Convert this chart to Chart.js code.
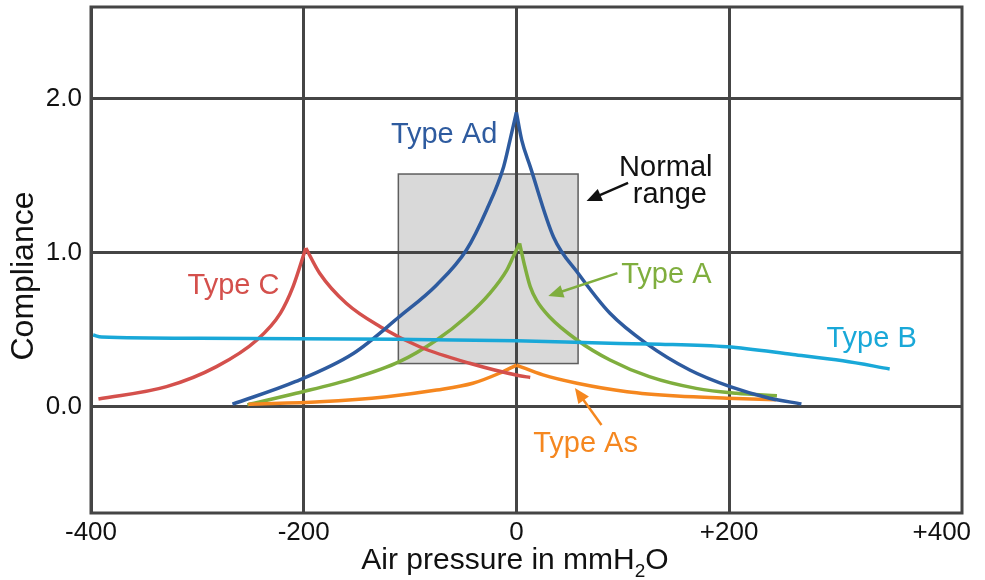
<!DOCTYPE html>
<html>
<head>
<meta charset="utf-8">
<script src="https://cdn.jsdelivr.net/npm/chart.js@4.4.1/dist/chart.umd.min.js"></script>
<style>
  html,body{margin:0;padding:0;background:#fff;}
  #wrap{width:985px;height:580px;position:relative;}
</style>
</head>
<body>
<div id="wrap"><canvas id="chart"></canvas></div>
<script>
const FONT="'Liberation Sans', Arial, sans-serif";

// AXES
const xTickValues=[-400,-200,0,200,400];
const xTickLabels=["-400","-200","0","+200","+400"];
const yTickValues=[0,1,2];
const yTickLabels=["0.0","1.0","2.0"];

// CURVES (air pressure, compliance) - each peaked curve split at its peak
const typeAdLeft=[[-267,0.016],[-208,0.162],[-153,0.347],[-110,0.584],[-75,0.79],[-47,1.017],[-28,1.277],[-12,1.558],[-6,1.73],[0,1.91]];
const typeAdRight=[[0,1.91],[5,1.73],[13,1.558],[35,1.10],[58,0.866],[88,0.606],[122,0.411],[163,0.238],[201,0.130],[238,0.055],[268,0.018]];
const typeALeft=[[-253,0.012],[-207,0.087],[-153,0.184],[-110,0.292],[-75,0.433],[-47,0.584],[-25,0.736],[-9,0.887],[-3,0.973],[3,1.06]];
const typeARight=[[3,1.06],[8,0.908],[13,0.779],[19,0.69],[31,0.584],[57,0.433],[88,0.303],[125,0.195],[169,0.119],[207,0.087],[245,0.071]];
const typeAsLeft=[[-252,0.016],[-185,0.032],[-122,0.065],[-75,0.108],[-41,0.152],[-16,0.217],[0,0.27]];
const typeAsRight=[[0,0.27],[25,0.206],[57,0.152],[104,0.097],[151,0.069],[198,0.055],[244,0.045]];
const typeCLeft=[[-393,0.05],[-329,0.13],[-282,0.26],[-244,0.433],[-222,0.606],[-210,0.779],[-198,1.03]];
const typeCRight=[[-198,1.03],[-185,0.866],[-160,0.671],[-128,0.519],[-91,0.389],[-44,0.282],[3,0.201],[13,0.19]];
const typeB=[[-398,0.465],[-390,0.452],[-298,0.444],[-110,0.437],[0,0.428],[88,0.411],[135,0.406],[198,0.389],[260,0.339],[307,0.298],[351,0.245]];

// NORMAL RANGE BOX
const normalRangeX=[-111,58];
const normalRangeY=[0.28,1.51];

// LABELS
const labelTexts=["Type Ad","Type C","Type A","Type B","Type As","Normal","range"];
const labelX=[-68,-266,141,334,65,140.5,144.3];
const labelY=[1.713,0.731,0.803,0.387,-0.294,1.497,1.322];
const labelColors=["#2e5b9f","#d4504c","#7fae3e","#19a8d8","#f5871f","#111","#111"];

// ARROWS [fromX,fromY,toX,toY]
const arrows=[[105,1.452,66,1.335],[95,0.867,30,0.718],[80,-0.119,55,0.121]];
const arrowColors=["#111","#7fae3e","#f5871f"];

const toPts=a=>a.map(p=>({x:p[0],y:p[1]}));
function curve(data,color){
  return {data:toPts(data),borderColor:color,borderWidth:3.5,pointRadius:0,
    cubicInterpolationMode:"monotone",fill:false};
}

function drawArrow(ctx,x1,y1,x2,y2,color){
  const a=Math.atan2(y2-y1,x2-x1), L=15, W=6.5;
  ctx.save();
  ctx.strokeStyle=color; ctx.fillStyle=color; ctx.lineWidth=2.5;
  ctx.beginPath(); ctx.moveTo(x1,y1);
  ctx.lineTo(x2-Math.cos(a)*L*0.8,y2-Math.sin(a)*L*0.8); ctx.stroke();
  ctx.beginPath(); ctx.moveTo(x2,y2);
  ctx.lineTo(x2-Math.cos(a)*L+Math.sin(a)*W,y2-Math.sin(a)*L-Math.cos(a)*W);
  ctx.lineTo(x2-Math.cos(a)*L-Math.sin(a)*W,y2-Math.sin(a)*L+Math.cos(a)*W);
  ctx.closePath(); ctx.fill();
  ctx.restore();
}

const overlay={
  id:"overlay",
  beforeDraw(chart){
    const {ctx,scales:{x,y}}=chart;
    const l=x.getPixelForValue(normalRangeX[0]), r=x.getPixelForValue(normalRangeX[1]);
    const t=y.getPixelForValue(normalRangeY[1]), b=y.getPixelForValue(normalRangeY[0]);
    ctx.save();
    ctx.fillStyle="#d9d9d9"; ctx.fillRect(l,t,r-l,b-t);
    ctx.strokeStyle="#5e5e5e"; ctx.lineWidth=1.5; ctx.strokeRect(l,t,r-l,b-t);
    ctx.restore();
  },
  beforeDatasetsDraw(chart){
    const {ctx,chartArea:a}=chart;
    ctx.save();
    ctx.strokeStyle="#454545"; ctx.lineWidth=3;
    ctx.strokeRect(a.left,a.top,a.right-a.left,a.bottom-a.top);
    ctx.restore();
  },
  afterDatasetsDraw(chart){
    const {ctx,scales:{x,y}}=chart;
    ctx.save();
    ctx.textAlign="center"; ctx.textBaseline="alphabetic";
    ctx.font="29px "+FONT;
    labelTexts.forEach((s,i)=>{
      ctx.fillStyle=labelColors[i];
      ctx.fillText(s,x.getPixelForValue(labelX[i]),y.getPixelForValue(labelY[i]));
    });
    arrows.forEach((ar,i)=>drawArrow(ctx,x.getPixelForValue(ar[0]),y.getPixelForValue(ar[1]),
      x.getPixelForValue(ar[2]),y.getPixelForValue(ar[3]),arrowColors[i]));

    // x title with subscript
    ctx.fillStyle="#111"; ctx.textAlign="left";
    const p1="Air pressure in mmH", p2="2", p3="O";
    ctx.font="30px "+FONT; const w1=ctx.measureText(p1).width, w3=ctx.measureText(p3).width;
    ctx.font="19px "+FONT; const w2=ctx.measureText(p2).width;
    let sx=515-(w1+w2+w3)/2;
    ctx.font="30px "+FONT; ctx.fillText(p1,sx,569);
    ctx.font="19px "+FONT; ctx.fillText(p2,sx+w1,577);
    ctx.font="30px "+FONT; ctx.fillText(p3,sx+w1+w2,569);

    // y title
    ctx.translate(33,276); ctx.rotate(-Math.PI/2);
    ctx.textAlign="center"; ctx.font="32px "+FONT;
    ctx.fillText("Compliance",0,0);
    ctx.restore();
  }
};

const gridColor=c=>(c.tick && c.tick.value===400)?"rgba(0,0,0,0)":"#454545";

new Chart(document.getElementById("chart"),{
  type:"line",
  data:{datasets:[
    curve(typeB,"#19a8d8"),
    curve(typeAdLeft,"#2e5b9f"),curve(typeAdRight,"#2e5b9f"),
    curve(typeCLeft,"#d4504c"),curve(typeCRight,"#d4504c"),
    curve(typeAsLeft,"#f5871f"),curve(typeAsRight,"#f5871f"),
    curve(typeALeft,"#7fae3e"),curve(typeARight,"#7fae3e")
  ]},
  options:{
    responsive:true, maintainAspectRatio:false, animation:false,
    layout:{padding:{top:7,right:23,left:0,bottom:0}},
    plugins:{legend:{display:false},tooltip:{enabled:false}},
    scales:{
      x:{type:"linear",min:-400,max:419,
        afterBuildTicks:s=>{s.ticks=xTickValues.map(v=>({value:v}));},
        afterFit:s=>{s.height=67;s.paddingLeft=0;s.paddingRight=0;},
        grid:{color:gridColor,lineWidth:3,drawTicks:false},
        border:{display:false},
        ticks:{padding:4,color:"#111",font:{family:FONT,size:26},
          callback:(v)=>xTickLabels[xTickValues.indexOf(v)]}
      },
      y:{type:"linear",min:-0.69,max:2.594,
        afterBuildTicks:s=>{s.ticks=yTickValues.map(v=>({value:v}));},
        afterFit:s=>{s.width=91;s.paddingTop=0;s.paddingBottom=0;},
        grid:{color:"#454545",lineWidth:3,drawTicks:false},
        border:{display:false},
        ticks:{padding:9,color:"#111",font:{family:FONT,size:26},
          callback:(v)=>yTickLabels[yTickValues.indexOf(v)]}
      }
    }
  },
  plugins:[overlay]
});
</script>
</body>
</html>
